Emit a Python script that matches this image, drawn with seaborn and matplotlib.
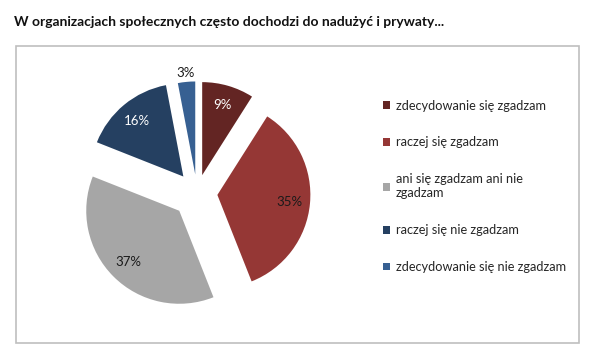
import matplotlib
matplotlib.use('Agg')
import matplotlib.pyplot as plt
import seaborn as sns
import numpy as np
from matplotlib.patches import Rectangle

# chart data
categories = ['zdecydowanie się zgadzam', 'raczej się zgadzam',
              'ani się zgadzam ani nie\nzgadzam', 'raczej się nie zgadzam',
              'zdecydowanie się nie zgadzam']
shares = [9, 35, 37, 16, 3]
pct_labels = ['9%', '35%', '37%', '16%', '3%']
pct_colors = ['white', '#1a1a1a', '#1a1a1a', 'white', '#1a1a1a']
title = 'W organizacjach społecznych często dochodzi do nadużyć i prywaty...'

sns.set_theme(style='white')
plt.rcParams['font.family'] = ['Lato', 'DejaVu Sans']
palette = sns.color_palette(['#632523', '#953735', '#a6a6a6', '#254061', '#376092'])

fig = plt.figure(figsize=(6, 3.62), dpi=100)
fig.patch.set_facecolor('white')

# chart frame
fig.patches.append(Rectangle((16 / 600, 1 - 343 / 362), 563 / 600, 297 / 362,
                             transform=fig.transFigure, fill=False,
                             edgecolor='#bfbfbf', linewidth=1.2))
fig.text(14 / 600, 1 - 22 / 362, title, fontsize=10, fontweight='bold',
         color='#111111', va='center', ha='left')

# pie axes, square of 300px centred on the pie
ax = fig.add_axes([47 / 600, 19 / 362, 300 / 600, 300 / 362])
wedges, texts = ax.pie(shares, colors=palette, startangle=90, counterclock=False,
                       explode=[0.2, 0.22, 0.27, 0.23, 0.2], radius=1.0,
                       wedgeprops=dict(linewidth=0))
lim = 150 / 93
ax.set_xlim(-lim, lim)
ax.set_ylim(-lim, lim)
ax.axis('off')

# percentage labels
for w, lab, col in zip(wedges, pct_labels, pct_colors):
    ang = np.deg2rad((w.theta1 + w.theta2) / 2)
    cx, cy = w.center
    d = 1.1 if lab == '3%' else 0.78
    ax.text(cx + d * np.cos(ang), cy + d * np.sin(ang), lab, ha='center',
            va='center', fontsize=9.5, color=col)

leg = fig.legend(wedges, categories, loc='upper left',
                 bbox_to_anchor=(371 / 600, 1 - 88 / 362), frameon=False,
                 fontsize=9.2, labelspacing=1.95, handlelength=0.55,
                 handleheight=0.55, handletextpad=0.5, labelcolor='#262626')

plt.savefig('out.png', dpi=100, facecolor='white')
plt.close()
